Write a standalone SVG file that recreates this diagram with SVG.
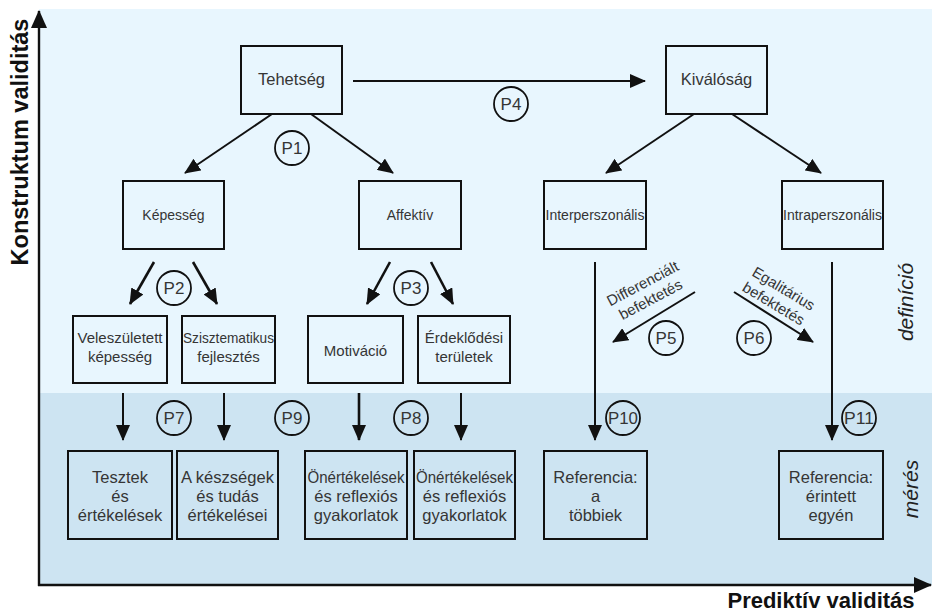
<svg xmlns="http://www.w3.org/2000/svg" width="932" height="614" viewBox="0 0 932 614">
  <style>
    .box { fill: none; stroke: #111; stroke-width: 2; }
    .lbl { font-family: "Liberation Sans", Arial, sans-serif; fill: #353535; text-anchor: middle; }
    .t16 { font-size: 16.5px; }
    .t15 { font-size: 15px; }
    .t14 { font-size: 14px; }
    .axis { font-family: "Liberation Sans", Arial, sans-serif; font-weight: bold; fill: #111; text-anchor: middle; }
    .zone { font-family: "Liberation Sans", Arial, sans-serif; font-style: italic; font-size: 21px; fill: #222; text-anchor: middle; }
    .badge circle { fill: none; stroke: #111; stroke-width: 1.8; }
    .badge text { font-family: "Liberation Sans", Arial, sans-serif; font-size: 17px; fill: #353535; text-anchor: middle; }
    .edge { stroke: #111; stroke-width: 2; fill: none; marker-end: url(#head); }
    .edge.thick { stroke-width: 2.6; }
    .ax { stroke: #111; stroke-width: 2.4; fill: none; }
  </style>
  <defs>
    <marker id="head" markerUnits="userSpaceOnUse" viewBox="0 0 16 14" markerWidth="16" markerHeight="14" refX="15" refY="7" orient="auto">
      <path d="M0,0 L16,7 L0,14 z" fill="#111"/>
    </marker>
    <marker id="axhead" markerUnits="userSpaceOnUse" viewBox="0 0 18 16" markerWidth="18" markerHeight="16" refX="17" refY="8" orient="auto">
      <path d="M0,0 L18,8 L0,16 z" fill="#111"/>
    </marker>
  </defs>

  <!-- background bands: definition (upper) and measurement (lower) -->
  <rect x="39" y="9" width="893" height="384" fill="#e8f6fe"/>
  <rect x="39" y="393" width="893" height="192" fill="#cde4f2"/>

  <!-- axes -->
  <g id="axes">
    <line class="ax" x1="39" y1="586" x2="39" y2="11" marker-end="url(#axhead)"/>
    <line class="ax" x1="38" y1="585" x2="931" y2="585" marker-end="url(#axhead)"/>
    <text class="axis" font-size="23.5" transform="translate(28,142) rotate(-90)">Konstruktum validitás</text>
    <text class="axis" font-size="22" x="821" y="608">Prediktív validitás</text>
    <text class="zone" transform="translate(913,302) rotate(-90)">definíció</text>
    <text class="zone" transform="translate(918,489) rotate(-90)">mérés</text>
  </g>

  <!-- connectors -->
  <g id="connectors">
    <line class="edge" x1="272" y1="114" x2="185" y2="173"/>
    <line class="edge" x1="311" y1="114" x2="393" y2="173"/>
    <line class="edge" x1="353" y1="81" x2="645" y2="81"/>
    <line class="edge" x1="694" y1="114" x2="606" y2="173"/>
    <line class="edge" x1="732" y1="114" x2="821" y2="173"/>
    <line class="edge thick" x1="154" y1="262" x2="130" y2="304"/>
    <line class="edge thick" x1="193" y1="262" x2="217" y2="304"/>
    <line class="edge thick" x1="390" y1="262" x2="367" y2="304"/>
    <line class="edge thick" x1="431" y1="262" x2="453" y2="304"/>
    <line class="edge" x1="595" y1="262" x2="595" y2="440"/>
    <line class="edge" x1="832" y1="262" x2="832" y2="440"/>
    <line class="edge" x1="695" y1="292" x2="613" y2="342"/>
    <line class="edge" x1="734" y1="292" x2="813" y2="342"/>
    <line class="edge" x1="123" y1="393" x2="123" y2="440"/>
    <line class="edge" x1="224" y1="393" x2="224" y2="440"/>
    <line class="edge thick" x1="359" y1="393" x2="359" y2="440"/>
    <line class="edge" x1="461" y1="393" x2="461" y2="440"/>
  </g>

  <!-- connector labels -->
  <g id="edge-labels">
    <text class="lbl t15" transform="translate(645,288) rotate(-28)">Differenciált</text>
    <text class="lbl t15" transform="translate(653,304) rotate(-28)">befektetés</text>
    <text class="lbl t15" transform="translate(781,293) rotate(31)">Egalitárius</text>
    <text class="lbl t15" transform="translate(771,308) rotate(31)">befektetés</text>
  </g>

  <!-- path badges -->
  <g id="badges">
    <g class="badge" id="p1"><circle cx="292" cy="148" r="17"/><text x="292" y="154">P1</text></g>
    <g class="badge" id="p2"><circle cx="174" cy="288" r="17"/><text x="174" y="294">P2</text></g>
    <g class="badge" id="p3"><circle cx="411" cy="288" r="17"/><text x="411" y="294">P3</text></g>
    <g class="badge" id="p4"><circle cx="511" cy="104" r="17"/><text x="511" y="110">P4</text></g>
    <g class="badge" id="p5"><circle cx="666" cy="338" r="17"/><text x="666" y="344">P5</text></g>
    <g class="badge" id="p6"><circle cx="754" cy="338" r="17"/><text x="754" y="344">P6</text></g>
    <g class="badge" id="p7"><circle cx="174" cy="418" r="17"/><text x="174" y="424">P7</text></g>
    <g class="badge" id="p8"><circle cx="411" cy="418" r="17"/><text x="411" y="424">P8</text></g>
    <g class="badge" id="p9"><circle cx="292" cy="418" r="17"/><text x="292" y="424">P9</text></g>
    <g class="badge" id="p10"><circle cx="623" cy="418" r="17"/><text x="623" y="424" textLength="30" lengthAdjust="spacingAndGlyphs">P10</text></g>
    <g class="badge" id="p11"><circle cx="859" cy="418" r="17"/><text x="859" y="424" textLength="30" lengthAdjust="spacingAndGlyphs">P11</text></g>
  </g>

  <!-- level 1 -->
  <g id="tehetseg">
    <rect class="box" x="241" y="46" width="101" height="68"/>
    <text class="lbl t16" x="291.5" y="85">Tehetség</text>
  </g>
  <g id="kivalosag">
    <rect class="box" x="666" y="46" width="101" height="68"/>
    <text class="lbl t16" x="716.5" y="85">Kiválóság</text>
  </g>

  <!-- level 2 -->
  <g id="kepesseg">
    <rect class="box" x="123" y="181" width="101" height="68"/>
    <text class="lbl t14" x="173.5" y="220">Képesség</text>
  </g>
  <g id="affektiv">
    <rect class="box" x="359" y="181" width="102" height="68"/>
    <text class="lbl t14" x="410" y="220">Affektív</text>
  </g>
  <g id="interperszonalis">
    <rect class="box" x="544" y="181" width="102" height="68"/>
    <text class="lbl t14" x="595" y="220" textLength="99" lengthAdjust="spacingAndGlyphs">Interperszonális</text>
  </g>
  <g id="intraperszonalis">
    <rect class="box" x="782" y="181" width="101" height="68"/>
    <text class="lbl t14" x="832.5" y="220" textLength="99" lengthAdjust="spacingAndGlyphs">Intraperszonális</text>
  </g>

  <!-- level 3 -->
  <g id="veleszuletett">
    <rect class="box" x="73" y="316" width="94" height="67"/>
    <text class="lbl t15" x="120" y="343">Veleszületett</text>
    <text class="lbl t15" x="120" y="362">képesség</text>
  </g>
  <g id="szisztematikus">
    <rect class="box" x="182" y="316" width="93" height="67"/>
    <text class="lbl t15" x="228.5" y="343" textLength="91" lengthAdjust="spacingAndGlyphs">Szisztematikus</text>
    <text class="lbl t15" x="228.5" y="362">fejlesztés</text>
  </g>
  <g id="motivacio">
    <rect class="box" x="308" y="316" width="95" height="67"/>
    <text class="lbl t15" x="355.5" y="356">Motiváció</text>
  </g>
  <g id="erdeklodesi">
    <rect class="box" x="418" y="316" width="92" height="67"/>
    <text class="lbl t15" x="464" y="343">Érdeklődési</text>
    <text class="lbl t15" x="464" y="362">területek</text>
  </g>

  <!-- measurement level -->
  <g id="tesztek">
    <rect class="box" x="68" y="451" width="104" height="88"/>
    <text class="lbl t16" x="120" y="483">Tesztek</text>
    <text class="lbl t16" x="120" y="502">és</text>
    <text class="lbl t16" x="120" y="521">értékelések</text>
  </g>
  <g id="keszsegek">
    <rect class="box" x="177" y="451" width="101" height="88"/>
    <text class="lbl t16" x="227.5" y="483" textLength="93" lengthAdjust="spacingAndGlyphs">A készségek</text>
    <text class="lbl t16" x="227.5" y="502">és tudás</text>
    <text class="lbl t16" x="227.5" y="521">értékelései</text>
  </g>
  <g id="onertekeles-1">
    <rect class="box" x="305" y="451" width="102" height="88"/>
    <text class="lbl t16" x="356" y="483" textLength="97" lengthAdjust="spacingAndGlyphs">Önértékelések</text>
    <text class="lbl t16" x="356" y="502">és reflexiós</text>
    <text class="lbl t16" x="356" y="521">gyakorlatok</text>
  </g>
  <g id="onertekeles-2">
    <rect class="box" x="414" y="451" width="101" height="88"/>
    <text class="lbl t16" x="464.5" y="483" textLength="97" lengthAdjust="spacingAndGlyphs">Önértékelések</text>
    <text class="lbl t16" x="464.5" y="502">és reflexiós</text>
    <text class="lbl t16" x="464.5" y="521">gyakorlatok</text>
  </g>
  <g id="referencia-tobbiek">
    <rect class="box" x="544" y="451" width="103" height="88"/>
    <text class="lbl t16" x="595.5" y="483">Referencia:</text>
    <text class="lbl t16" x="595.5" y="502">a</text>
    <text class="lbl t16" x="595.5" y="521">többiek</text>
  </g>
  <g id="referencia-egyen">
    <rect class="box" x="779" y="451" width="104" height="88"/>
    <text class="lbl t16" x="831" y="483">Referencia:</text>
    <text class="lbl t16" x="831" y="502">érintett</text>
    <text class="lbl t16" x="831" y="521">egyén</text>
  </g>
</svg>
